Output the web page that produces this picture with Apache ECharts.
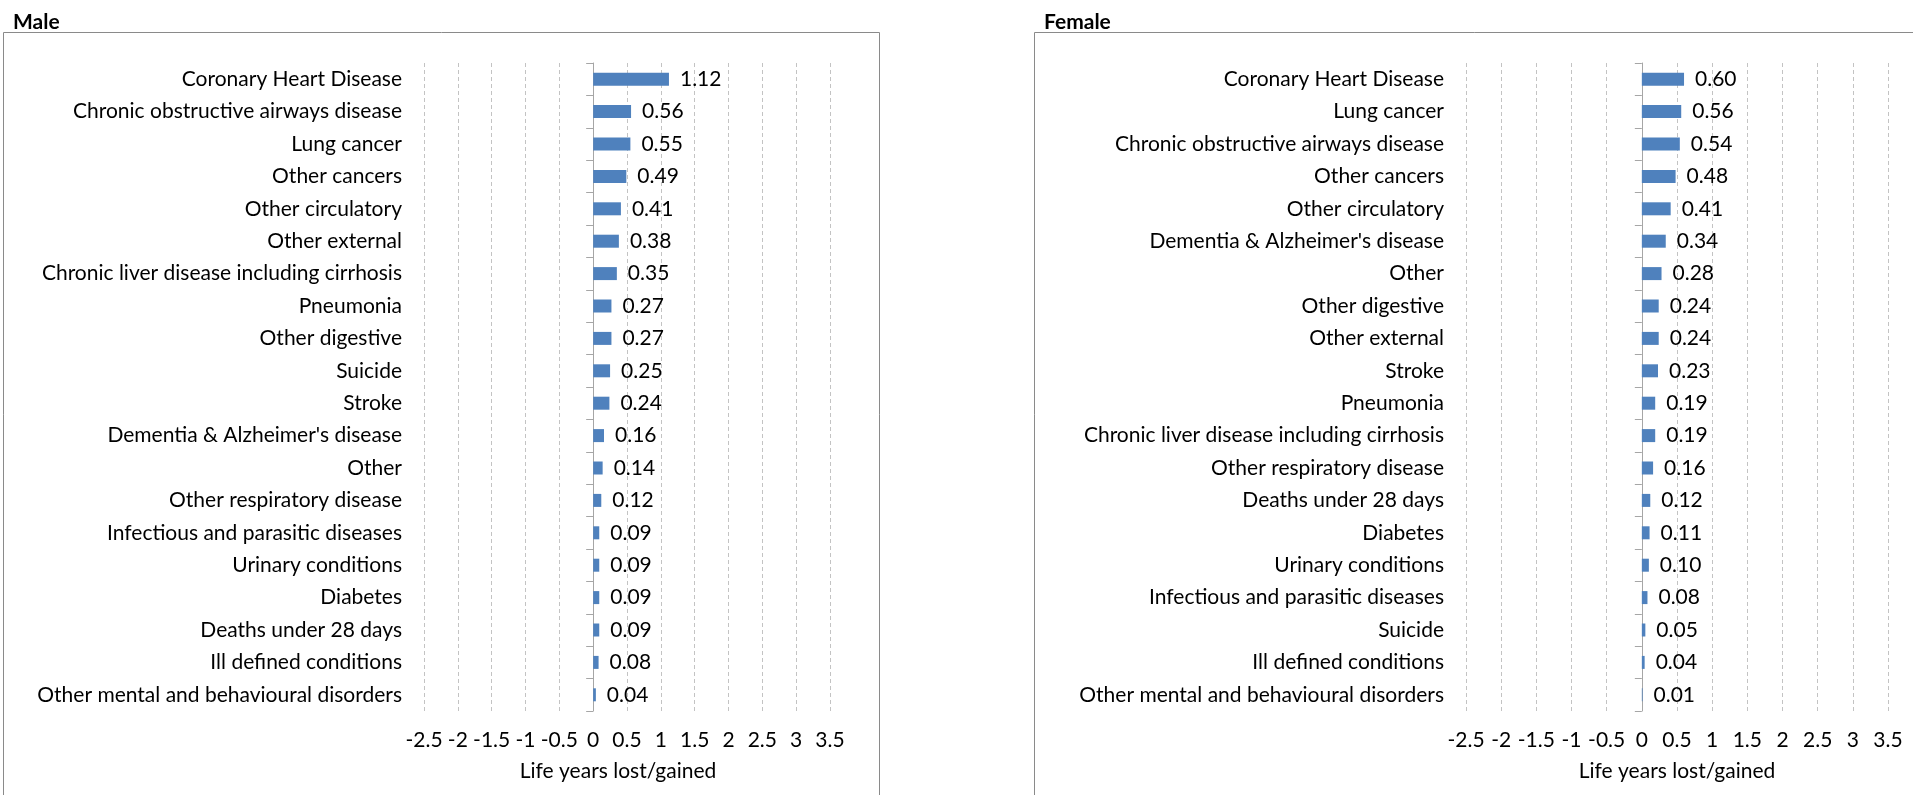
<!DOCTYPE html>
<html>
<head>
<meta charset="utf-8">
<title>Life years lost/gained by cause</title>
<script src="https://cdn.jsdelivr.net/npm/echarts@6/dist/echarts.min.js"></script>
<style>
  html, body { margin: 0; padding: 0; background: #ffffff; }
  #chart { width: 1913px; height: 795px; }
</style>
</head>
<body>
<div id="chart"></div>
<script>
// Causes and life years lost/gained, ordered as listed (top to bottom)
const maleCauses = [
  'Coronary Heart Disease',
  'Chronic obstructive airways disease',
  'Lung cancer',
  'Other cancers',
  'Other circulatory',
  'Other external',
  'Chronic liver disease including cirrhosis',
  'Pneumonia',
  'Other digestive',
  'Suicide',
  'Stroke',
  "Dementia & Alzheimer's disease",
  'Other',
  'Other respiratory disease',
  'Infectious and parasitic diseases',
  'Urinary conditions',
  'Diabetes',
  'Deaths under 28 days',
  'Ill defined conditions',
  'Other mental and behavioural disorders'
];
const maleValues = [1.12, 0.56, 0.55, 0.49, 0.41, 0.38, 0.35, 0.27, 0.27, 0.25,
                    0.24, 0.16, 0.14, 0.12, 0.09, 0.09, 0.09, 0.09, 0.08, 0.04];

const femaleCauses = [
  'Coronary Heart Disease',
  'Lung cancer',
  'Chronic obstructive airways disease',
  'Other cancers',
  'Other circulatory',
  "Dementia & Alzheimer's disease",
  'Other',
  'Other digestive',
  'Other external',
  'Stroke',
  'Pneumonia',
  'Chronic liver disease including cirrhosis',
  'Other respiratory disease',
  'Deaths under 28 days',
  'Diabetes',
  'Urinary conditions',
  'Infectious and parasitic diseases',
  'Suicide',
  'Ill defined conditions',
  'Other mental and behavioural disorders'
];
const femaleValues = [0.60, 0.56, 0.54, 0.48, 0.41, 0.34, 0.28, 0.24, 0.24, 0.23,
                      0.19, 0.19, 0.16, 0.12, 0.11, 0.10, 0.08, 0.05, 0.04, 0.01];

// Value axis range and step
const axisMin = -2.5;
const axisMax = 3.5;
const axisStep = 0.5;

const panelTitles = ['Male', 'Female'];
const axisTitle = 'Life years lost/gained';

const FONT = 'Lato';
const TEXT = '#000000';
const BAR = '#4F81BD';

const chart = echarts.init(document.getElementById('chart'), null, { renderer: 'canvas' });

const grids = [
  { left: 424, top: 63, width: 406, height: 648 },
  { left: 1466, top: 63, width: 422, height: 648 }
];

function xAxisFor(i) {
  return {
    type: 'value',
    gridIndex: i,
    min: axisMin,
    max: axisMax,
    interval: axisStep,
    name: axisTitle,
    nameLocation: 'middle',
    nameGap: 50,
    nameTextStyle: {
      fontFamily: FONT, fontSize: 21, color: TEXT, lineHeight: 21,
      padding: i === 0 ? [0, 18, 0, 0] : 0
    },
    axisLine: { show: false },
    axisTick: { show: false },
    axisLabel: {
      fontFamily: FONT, fontSize: 21, color: TEXT, margin: 19, lineHeight: 21,
      formatter: v => String(v)
    },
    splitLine: { show: true, lineStyle: { color: '#c3c3c3', width: 1, type: [4, 3] } }
  };
}

function labelAxisFor(i, cats) {
  return {
    type: 'category',
    gridIndex: i,
    data: cats,
    inverse: true,
    position: 'left',
    axisLine: { show: false, onZero: false },
    axisTick: { show: false },
    splitLine: { show: false },
    axisLabel: { fontFamily: FONT, fontSize: 21, color: TEXT, margin: 22 }
  };
}

function zeroAxisFor(i, cats) {
  return {
    type: 'category',
    gridIndex: i,
    data: cats,
    inverse: true,
    position: 'left',
    axisLine: { show: true, onZero: true, lineStyle: { color: '#a6a6a6', width: 1 } },
    axisTick: { show: true, length: 7, lineStyle: { color: '#a6a6a6', width: 1 } },
    axisLabel: { show: false },
    splitLine: { show: false }
  };
}

function barSeries(i, values) {
  return {
    type: 'bar',
    xAxisIndex: i,
    yAxisIndex: i * 2,
    data: values,
    barWidth: 13,
    itemStyle: { color: BAR },
    label: {
      show: true,
      position: 'right',
      distance: 11,
      fontFamily: FONT,
      fontSize: 21,
      color: TEXT,
      formatter: p => p.value.toFixed(2)
    },
    silent: true,
    animation: false
  };
}

const option = {
  backgroundColor: '#ffffff',
  animation: false,
  title: [
    { text: panelTitles[0], left: 8, top: 7,
      textStyle: { fontFamily: FONT, fontSize: 21, fontWeight: 'bold', color: TEXT } },
    { text: panelTitles[1], left: 1039, top: 7,
      textStyle: { fontFamily: FONT, fontSize: 21, fontWeight: 'bold', color: TEXT } }
  ],
  graphic: [
    { type: 'rect', silent: true, z: -1,
      shape: { x: 3.5, y: 32.5, width: 876, height: 800 },
      style: { fill: 'none', stroke: '#8a8a8a', lineWidth: 1 } },
    { type: 'rect', silent: true, z: -1,
      shape: { x: 1034.5, y: 32.5, width: 900, height: 800 },
      style: { fill: 'none', stroke: '#8a8a8a', lineWidth: 1 } }
  ],
  grid: grids,
  xAxis: [xAxisFor(0), xAxisFor(1)],
  yAxis: [
    labelAxisFor(0, maleCauses),
    zeroAxisFor(0, maleCauses),
    labelAxisFor(1, femaleCauses),
    zeroAxisFor(1, femaleCauses)
  ],
  series: [barSeries(0, maleValues), barSeries(1, femaleValues)]
};

chart.setOption(option);
</script>
</body>
</html>
